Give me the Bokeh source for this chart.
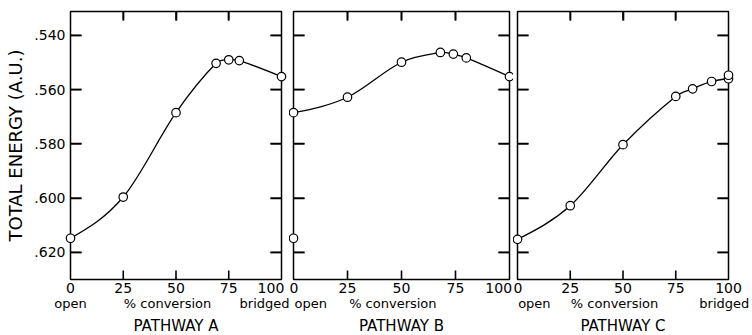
import numpy as np
from bokeh.plotting import figure
from bokeh.layouts import row
from bokeh.models import Range1d, FixedTicker, LinearAxis, CustomJSTickFormatter
from bokeh.embed import file_html
from bokeh.resources import INLINE

# ---- data ----
conv_a = [0, 25, 50, 69, 75, 80, 100]
energy_a = [0.6148, 0.5996, 0.5685, 0.5503, 0.5490, 0.5493, 0.5552]

conv_b = [0, 25, 50, 68, 74, 80, 100]
energy_b = [0.5685, 0.5628, 0.5499, 0.5463, 0.5469, 0.5483, 0.5552]
extra_conv_b = [0]
extra_energy_b = [0.6148]

conv_c = [0, 25, 50, 75, 83, 92, 100]
energy_c = [0.6152, 0.6028, 0.5803, 0.5625, 0.5597, 0.5570, 0.5560]
extra_conv_c = [100]
extra_energy_c = [0.5547]

energy_ticks = [0.54, 0.56, 0.58, 0.60, 0.62]
conv_ticks = [25, 50, 75]
num_labels = ["0", "25", "50", "75", "100"]
num_pos_ab = [0, 25, 50, 75, 95]
num_pos_c = [0, 25, 50, 75, 100]
word_labels_a = ["open", "% conversion", "bridged"]
word_pos_a = [0, 46, 94]
word_labels_b = ["open", "% conversion"]
word_pos_b = [8, 46]
word_labels_c = ["open", "% conversion", "bridged"]
word_pos_c = [8, 46, 98]
titles = ["PATHWAY A", "PATHWAY B", "PATHWAY C"]

FONT = "DejaVu Sans"
INK = "#000000"
FRAME_H = 268
TICK_PX = 11


def hermite(xs, ys):
    x = np.asarray(xs, float)
    y = np.asarray(ys, float)
    h = np.diff(x)
    s = np.diff(y) / h
    m = np.empty_like(y)
    m[1:-1] = (y[2:] - y[:-2]) / (x[2:] - x[:-2])
    m[0] = (3 * s[0] - m[1]) / 2
    m[-1] = (3 * s[-1] - m[-2]) / 2
    return dict(x0=x[:-1], y0=y[:-1], x1=x[1:], y1=y[1:],
                cx0=x[:-1] + h / 3, cy0=y[:-1] + m[:-1] * h / 3,
                cx1=x[1:] - h / 3, cy1=y[1:] - m[1:] * h / 3)


blank = CustomJSTickFormatter(code="return ''")
yfmt = CustomJSTickFormatter(code="return tick.toFixed(3).replace(/^0/, '')")


def inward(ax, length):
    ax.axis_line_color = None
    ax.major_tick_line_color = INK
    ax.major_tick_line_width = 1.6
    ax.minor_tick_line_color = None
    ax.major_tick_in = length
    ax.major_tick_out = 0


def no_ticks(ax):
    ax.axis_line_color = None
    ax.major_tick_line_color = None
    ax.minor_tick_line_color = None
    ax.major_tick_in = 0
    ax.major_tick_out = 0


def panel(title, conv, energy, num_pos, word_pos, word_labels, ylabels,
          bl, br, fw, extra=None):
    xr = Range1d(0, 100)
    yr = Range1d(0.6300, 0.5312)
    p = figure(frame_width=fw, frame_height=FRAME_H, x_range=xr, y_range=yr,
               output_backend="svg", toolbar_location=None,
               min_border_left=bl, min_border_right=br,
               min_border_top=11, min_border_bottom=0,
               x_axis_location=None, y_axis_location=None)
    p.grid.visible = False
    p.outline_line_color = INK
    p.outline_line_width = 1.5
    p.background_fill_color = "white"
    p.border_fill_color = "white"

    # left axis (labels only on panel A)
    left = LinearAxis(ticker=FixedTicker(ticks=energy_ticks))
    inward(left, TICK_PX)
    if ylabels:
        left.formatter = yfmt
        left.major_label_text_font_size = "14px"
        left.major_label_standoff = 5
        left.axis_label = "TOTAL ENERGY (A.U.)"
        left.axis_label_text_font_size = "18px"
        left.axis_label_text_font_style = "normal"
        left.axis_label_standoff = 5
    else:
        left.formatter = blank
        left.major_label_text_font_size = "0px"
        left.major_label_standoff = 0
    left.major_label_text_font = FONT
    left.major_label_text_color = INK
    left.axis_label_text_font = FONT
    left.axis_label_text_color = INK
    p.add_layout(left, "left")

    right = LinearAxis(ticker=FixedTicker(ticks=energy_ticks), formatter=blank)
    inward(right, TICK_PX)
    right.major_label_text_font_size = "0px"
    right.major_label_standoff = 0
    p.add_layout(right, "right")

    top = LinearAxis(ticker=FixedTicker(ticks=conv_ticks), formatter=blank)
    inward(top, 9)
    top.major_label_text_font_size = "0px"
    top.major_label_standoff = 0
    p.add_layout(top, "above")

    # bottom: numbers
    nums = LinearAxis(ticker=FixedTicker(ticks=num_pos, minor_ticks=[]))
    nums.major_label_overrides = {pos: lab for pos, lab in zip(num_pos, num_labels)}
    no_ticks(nums)
    nums.major_label_standoff = 3
    nums.major_label_text_font = FONT
    nums.major_label_text_font_size = "14px"
    nums.major_label_text_color = INK
    p.add_layout(nums, "below")

    # bottom: words + pathway name
    words = LinearAxis(ticker=FixedTicker(ticks=word_pos, minor_ticks=[]))
    words.major_label_overrides = {pos: lab for pos, lab in zip(word_pos, word_labels)}
    no_ticks(words)
    words.major_label_standoff = 0
    words.major_label_text_font = FONT
    words.major_label_text_font_size = "13px"
    words.major_label_text_color = INK
    words.axis_label = title
    words.axis_label_text_font = FONT
    words.axis_label_text_font_size = "15px"
    words.axis_label_text_font_style = "normal"
    words.axis_label_text_color = INK
    words.axis_label_standoff = 3
    p.add_layout(words, "below")

    # curve and data points
    p.bezier(line_color=INK, line_width=1.3, level="overlay",
             **hermite(conv, energy))
    p.scatter(conv, energy, size=8.5, marker="circle", fill_color="white",
              line_color=INK, line_width=1.2, level="overlay")
    if extra is not None:
        p.scatter(extra[0], extra[1], size=8.5, marker="circle",
                  fill_color="white", line_color=INK, line_width=1.2,
                  level="overlay")

    # inward tick marks on all four sides, drawn as short segments
    dx = TICK_PX * (xr.end - xr.start) / fw
    dy = 9 * (yr.end - yr.start) / FRAME_H
    et = [float(v) for v in energy_ticks]
    ct = [float(v) for v in conv_ticks]
    seg_kw = dict(line_color=INK, line_width=1.6, level="overlay")
    p.segment(x0=[xr.start] * len(et), y0=et,
              x1=[xr.start + dx] * len(et), y1=et, **seg_kw)
    p.segment(x0=[xr.end] * len(et), y0=et,
              x1=[xr.end - dx] * len(et), y1=et, **seg_kw)
    p.segment(x0=ct, y0=[yr.end] * len(ct),
              x1=ct, y1=[yr.end - dy] * len(ct), **seg_kw)
    p.segment(x0=ct, y0=[yr.start] * len(ct),
              x1=ct, y1=[yr.start + dy] * len(ct), **seg_kw)
    return p


pa = panel(titles[0], conv_a, energy_a, num_pos_ab, word_pos_a, word_labels_a,
           True, 70, 8, 211)
pb = panel(titles[1], conv_b, energy_b, num_pos_ab, word_pos_b, word_labels_b,
           False, 4, 4, 216, extra=(extra_conv_b, extra_energy_b))
pc = panel(titles[2], conv_c, energy_c, num_pos_c, word_pos_c, word_labels_c,
           False, 4, 22, 211, extra=(extra_conv_c, extra_energy_c))

layout = row(pa, pb, pc, spacing=0)
open("out.html", "w").write(file_html(layout, INLINE))
